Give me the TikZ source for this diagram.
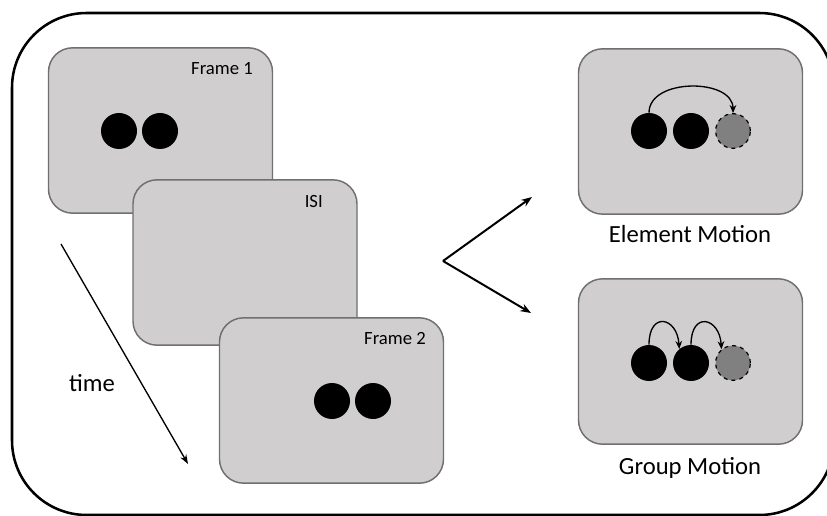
\documentclass[tikz,border=0pt]{standalone}
\usepackage{fontspec}
\setmainfont{Carlito}
\usetikzlibrary{arrows.meta}
\definecolor{panelgray}{RGB}{208,206,206}
\definecolor{edgegray}{RGB}{112,112,112}
\definecolor{ghostgray}{RGB}{128,128,128}

\begin{document}
\begin{tikzpicture}[x=0.75pt, y=-0.75pt,
          panel/.style={draw=edgegray, line width=1.1pt, fill=panelgray, rounded corners=18pt, minimum width=168pt, minimum height=124pt},
          dot/.style={circle, fill=black, minimum size=27pt, inner sep=0pt},
          ghost/.style={circle, draw=black, dashed, fill=ghostgray, line width=0.9pt, minimum size=26pt, inner sep=0pt},
          tag/.style={inner sep=0pt, font=\fontsize{14}{16}\selectfont},
          caption/.style={inner sep=0pt, font=\fontsize{18.5}{22}\selectfont},
        ]
          \useasboundingbox (0,0) rectangle (827,516);
          \draw[line width=1.9pt, rounded corners=56pt] (12,13) rectangle (834,515);

          % stimulus sequence
          \node[panel] (frame1) at (160.5,130.5) {};
          \node[tag, anchor=east] (frame1label) at (253,69) {Frame 1};
          \node[dot] (a1) at (119,131) {};
          \node[dot] (a2) at (160,131) {};
          \node[panel] (isi) at (245,262.5) {};
          \node[tag, anchor=east] (isilabel) at (323,202) {ISI};
          \node[panel] (frame2) at (331.5,400.5) {};
          \node[tag, anchor=east] (frame2label) at (426,339) {Frame 2};
          \node[dot] (b1) at (332,401) {};
          \node[dot] (b2) at (373,401) {};

          \coordinate (tstart) at (61,244);
          \coordinate (tend) at (188,464);
          \draw[line width=1pt, -{Stealth[length=7pt, width=5pt]}] (tstart) -- (tend);
          \node[caption] (timelabel) at (92,383) {time};

          % two percepts
          \coordinate (fork) at (443,261);
          \coordinate (upper) at (532,197);
          \coordinate (lower) at (531,313);
          \draw[line width=1.5pt, -{Stealth[length=8pt, width=6pt]}] (fork) -- (upper);
          \draw[line width=1.5pt, -{Stealth[length=8pt, width=6pt]}] (fork) -- (lower);

          \node[panel] (element) at (690.5,131.5) {};
          \node[dot] (e1) at (649,131) {};
          \node[dot] (e2) at (691,131) {};
          \node[ghost] (e3) at (733,131) {};
          \draw[line width=1pt, -{Stealth[length=6pt, width=5pt]}] (e1.north) .. controls +(0,-35) and +(0,-35) .. (e3.north);
          \node[caption, anchor=base] (elementlabel) at (690,243) {Element Motion};

          \node[panel] (group) at (690.5,361.5) {};
          \node[dot] (g1) at (649,363) {};
          \node[dot] (g2) at (691,363) {};
          \node[ghost] (g3) at (733,363) {};
          \draw[line width=1pt, -{Stealth[length=6pt, width=5pt]}] (g1.north) .. controls +(0,-34) and +(-2,-32) .. (g2.130);
          \draw[line width=1pt, -{Stealth[length=6pt, width=5pt]}] (g2.north) .. controls +(0,-34) and +(-2,-32) .. (g3.130);
          \node[caption, anchor=base] (grouplabel) at (690,474) {Group Motion};
        \end{tikzpicture}
\end{document}
